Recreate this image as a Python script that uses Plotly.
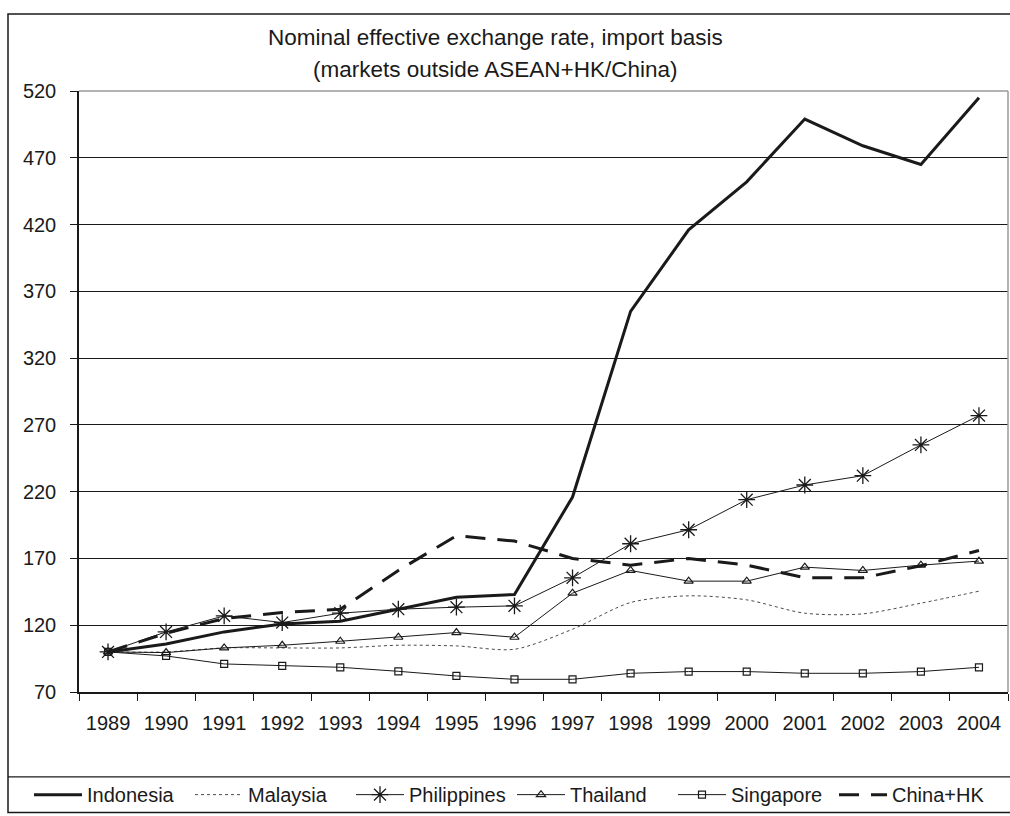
import plotly.graph_objects as go

# Index values, 1989 = 100
years = ["1989", "1990", "1991", "1992", "1993", "1994", "1995", "1996",
         "1997", "1998", "1999", "2000", "2001", "2002", "2003", "2004"]

indonesia = [100, 106, 115, 121, 123, 132, 141, 143,
             216, 355, 416, 452, 499, 479, 465, 515]
malaysia = [100, 100, 103, 103, 103, 105, 104.5, 102,
            117, 137, 142, 139, 129, 128.5, 136.5, 145.5]
philippines = [100, 115, 127, 122, 129, 132, 133.5, 134.5,
               155.5, 181, 191.5, 214, 225, 232, 255, 277]
thailand = [100, 99.5, 103, 105, 108, 111, 114.5, 111,
            144, 161, 153, 153, 163.5, 161, 165, 168]
singapore = [100, 97, 91, 89.5, 88.5, 85.5, 82, 79.5,
             79.5, 84, 85.3, 85.3, 84, 84, 85.3, 88.5]
china_hk = [100, 114, 125, 129.5, 132, 161, 187, 183,
            170, 165, 170, 165, 155.5, 155.5, 164.5, 176]

y_ticks = [70, 120, 170, 220, 270, 320, 370, 420, 470, 520]

INK = "#1a1a1a"
FONT = "Liberation Sans, Arial, sans-serif"

fig = go.Figure()

fig.add_trace(go.Scatter(
    x=years, y=indonesia, name="Indonesia", mode="lines",
    line=dict(color=INK, width=3)))
fig.add_trace(go.Scatter(
    x=years, y=malaysia, name="Malaysia", mode="lines",
    line=dict(color="#4a4a4a", width=1, dash="3px,3px", shape="spline", smoothing=0.8)))
fig.add_trace(go.Scatter(
    x=years, y=philippines, name="Philippines", mode="lines+markers",
    line=dict(color=INK, width=1),
    marker=dict(symbol="asterisk-open", size=14, color=INK, line=dict(color=INK, width=1.3))))
fig.add_trace(go.Scatter(
    x=years, y=thailand, name="Thailand", mode="lines+markers",
    line=dict(color=INK, width=1),
    marker=dict(symbol="triangle-up-open", size=8, color=INK, line=dict(color=INK, width=1.2))))
fig.add_trace(go.Scatter(
    x=years, y=singapore, name="Singapore", mode="lines+markers",
    line=dict(color=INK, width=1),
    marker=dict(symbol="square-open", size=7, color=INK, line=dict(color=INK, width=1.2))))
fig.add_trace(go.Scatter(
    x=years, y=china_hk, name="China+HK", mode="lines",
    line=dict(color=INK, width=3, dash="20px,12px")))

# pixel helpers for decorations around the plot area
L, R, T, B = 79, 1008, 91, 700
W, H = R - L, B - T


def px_x(v):
    return (v - L) / W


def px_y(v):
    return (B - v) / H


shapes = [
    # outer chart frame
    dict(type="rect", xref="paper", yref="paper",
         x0=px_x(8), x1=px_x(1016), y0=px_y(822), y1=px_y(13),
         line=dict(color=INK, width=1.5), layer="below"),
    # legend box top edge
    dict(type="line", xref="paper", yref="paper",
         x0=px_x(8), x1=px_x(1016), y0=px_y(786), y1=px_y(786),
         line=dict(color=INK, width=1.2)),
    # plot area border (top / right)
    dict(type="line", xref="paper", yref="paper", x0=0, x1=1, y0=1, y1=1,
         line=dict(color="#9a9a9a", width=1.5), layer="above"),
    dict(type="line", xref="paper", yref="paper", x0=1, x1=1, y0=0, y1=1,
         line=dict(color="#9a9a9a", width=1.5), layer="above"),
]

annotations = [
    dict(text="Nominal effective exchange rate, import basis", xref="paper", yref="paper",
         x=px_x(495), y=px_y(37), showarrow=False, xanchor="center", yanchor="middle",
         font=dict(family=FONT, size=22.5, color=INK)),
    dict(text="(markets outside ASEAN+HK/China)", xref="paper", yref="paper",
         x=px_x(495), y=px_y(69), showarrow=False, xanchor="center", yanchor="middle",
         font=dict(family=FONT, size=22.5, color=INK)),
]

fig.update_layout(
    width=1010, height=816,
    margin=dict(l=L, r=1010 - R, t=T, b=816 - B),
    paper_bgcolor="white", plot_bgcolor="white",
    font=dict(family=FONT, size=20, color=INK),
    shapes=shapes, annotations=annotations,
    showlegend=True,
    legend=dict(orientation="h", x=px_x(29), xanchor="left",
                y=px_y(804), yanchor="middle",
                itemwidth=48, entrywidth=98, traceorder="normal",
                font=dict(family=FONT, size=20, color=INK),
                bgcolor="rgba(0,0,0,0)", borderwidth=0),
)

fig.update_xaxes(
    type="category", tickson="boundaries", range=[-0.5, 15.5],
    ticks="outside", ticklen=7, tickcolor=INK, tickwidth=1,
    showline=True, linecolor=INK, linewidth=1.5,
    showgrid=False, ticklabelstandoff=12,
    tickfont=dict(family=FONT, size=20, color=INK),
)
fig.update_yaxes(
    range=[70, 520], tickvals=y_ticks,
    ticks="outside", ticklen=7, tickcolor=INK, tickwidth=1,
    showline=True, linecolor=INK, linewidth=1.5,
    showgrid=True, gridcolor=INK, gridwidth=1.2, zeroline=False,
    ticklabelstandoff=10,
    tickfont=dict(family=FONT, size=20, color=INK),
)

fig.write_html("out.html")
